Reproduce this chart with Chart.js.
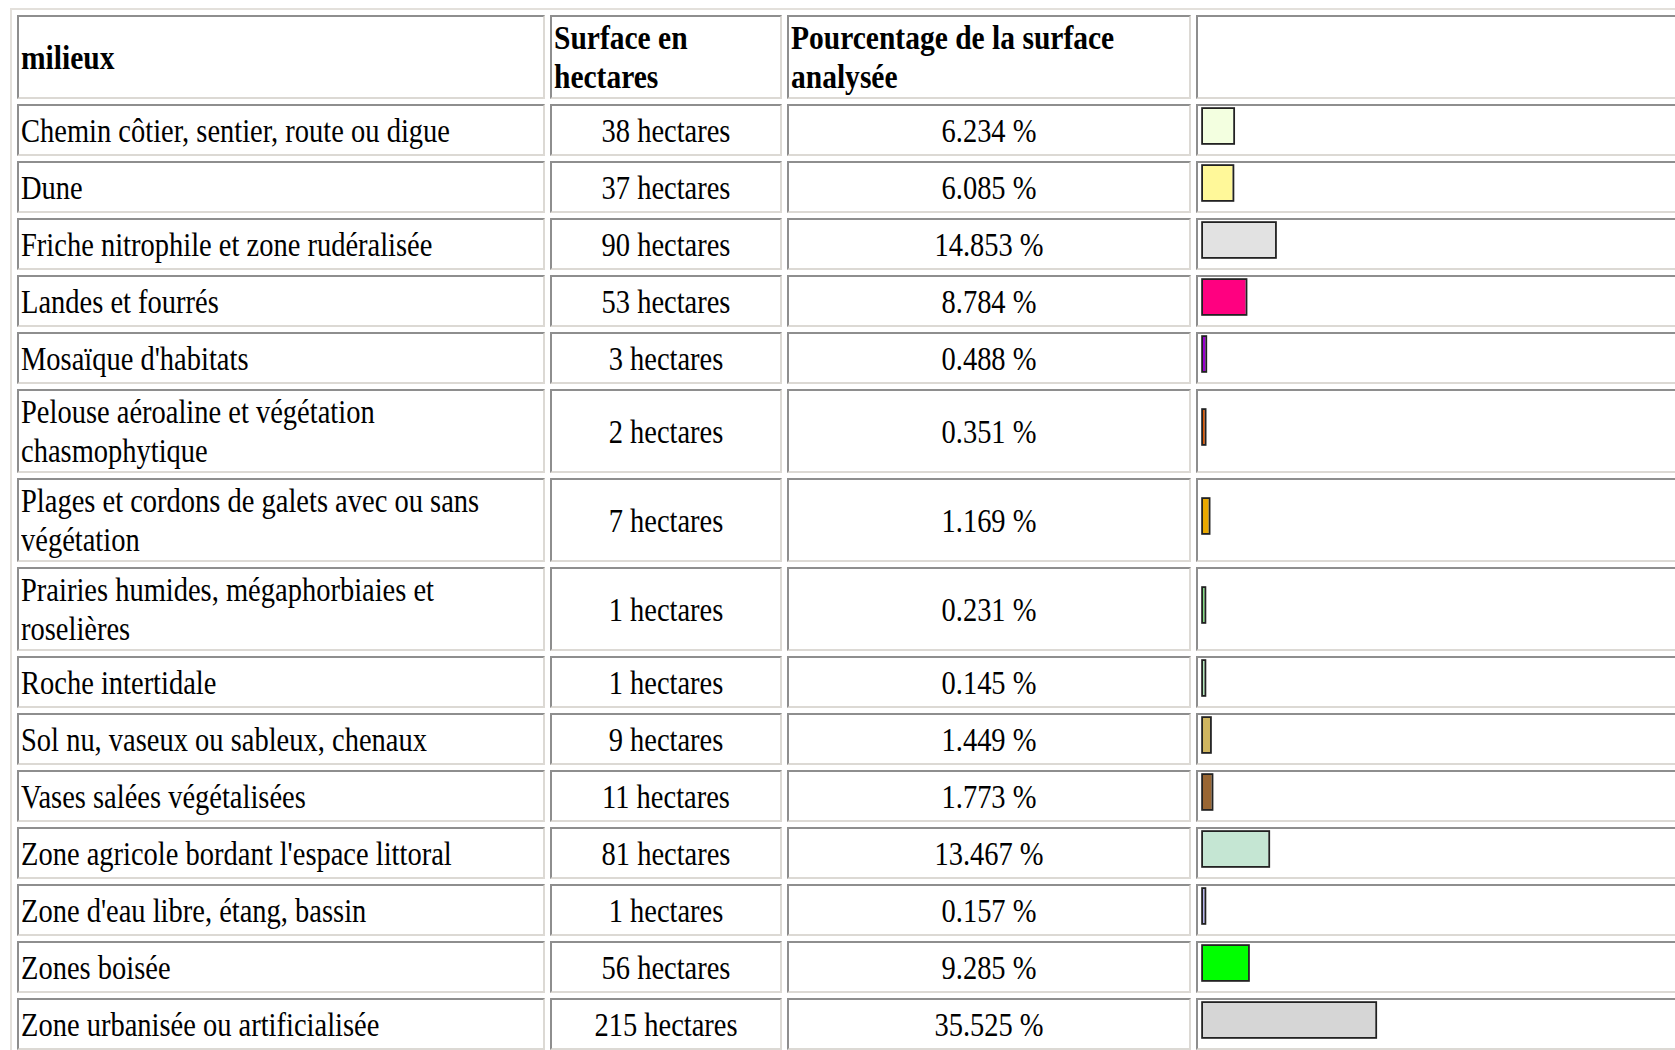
<!DOCTYPE html>
<html lang="fr">
<head>
<meta charset="utf-8">
<title>Milieux</title>
<script src="https://cdn.jsdelivr.net/npm/chart.js@4.4.1/dist/chart.umd.min.js"></script>
<style>
  html, body { margin: 0; padding: 0; background: #fff; }
  body { width: 1675px; height: 1050px; overflow: hidden; position: relative; }
  table {
    position: absolute; left: 10px; top: 8px;
    border-collapse: separate; border-spacing: 5px; table-layout: fixed;
    width: 1713px;
    border: 2px solid; border-color: #e3e0db #8a8a8a #8a8a8a #e3e0db;
    font-family: "Liberation Serif", "Times New Roman", serif;
    font-size: 34px; color: #000;
  }
  td, th {
    box-sizing: border-box;
    border: 2px solid; border-color: #8e8e8e #dcd9d4 #dcd9d4 #8e8e8e;
    padding: 1px 2px; vertical-align: middle; overflow: visible;
    font-weight: normal; text-align: left;
  }
  th { font-weight: bold; }
  .t { line-height: 39px; transform-origin: 0 0; transform: scaleX(0.838); }
  th .t { transform: scaleX(0.868); }
  .c { text-align: center; }
  td.bar { padding: 1px; }
  td.bar canvas { display: block; }
</style>
</head>
<body>
<table id="tab">
  <colgroup>
    <col style="width:528px"><col style="width:232px"><col style="width:404px"><col style="width:520px">
  </colgroup>
  <thead><tr id="head"></tr></thead>
  <tbody id="body"></tbody>
</table>
<script>
// ---- data ----
const enTetes = ["milieux", "Surface en hectares", "Pourcentage de la surface analysée", ""];
const milieux = [
  "Chemin côtier, sentier, route ou digue",
  "Dune",
  "Friche nitrophile et zone rudéralisée",
  "Landes et fourrés",
  "Mosaïque d'habitats",
  "Pelouse aéroaline et végétation chasmophytique",
  "Plages et cordons de galets avec ou sans végétation",
  "Prairies humides, mégaphorbiaies et roselières",
  "Roche intertidale",
  "Sol nu, vaseux ou sableux, chenaux",
  "Vases salées végétalisées",
  "Zone agricole bordant l'espace littoral",
  "Zone d'eau libre, étang, bassin",
  "Zones boisée",
  "Zone urbanisée ou artificialisée"
];
const hectares = [38, 37, 90, 53, 3, 2, 7, 1, 1, 9, 11, 81, 1, 56, 215];
const pourcentages = [6.234, 6.085, 14.853, 8.784, 0.488, 0.351, 1.169, 0.231, 0.145, 1.449, 1.773, 13.467, 0.157, 9.285, 35.525];
const couleurs = ["#f3ffe0", "#fff899", "#e2e2e2", "#ff0080", "#9a00d0", "#dd5500", "#e8a800",
                  "#7fdd7f", "#b0e8b8", "#cfb55f", "#996633", "#c5e6d3", "#b4b4f0", "#00ff00", "#d6d6d6"];

// ---- layout helpers ----
const K = 0.838, KH = 0.868;
const contentW = [500, 224, 396];

const head = document.getElementById('head');
enTetes.forEach((h, j) => {
  const th = document.createElement('th');
  if (j < 3) {
    const d = document.createElement('div');
    d.className = 't';
    d.style.width = (contentW[j] / KH) + 'px';
    d.textContent = h;
    th.appendChild(d);
  }
  head.appendChild(th);
});

const outline = {
  id: 'outline',
  afterDatasetsDraw(chart) {
    const ctx = chart.ctx;
    const lw = 1.8;
    ctx.save();
    ctx.strokeStyle = '#222';
    ctx.lineWidth = lw;
    chart.getDatasetMeta(0).data.forEach(el => {
      const p = el.getProps(['x', 'y', 'base', 'height'], true);
      const l = Math.min(p.x, p.base), r = Math.max(p.x, p.base);
      ctx.strokeRect(l - lw / 2, p.y - p.height / 2 - lw / 2, (r - l) + lw, p.height + lw);
    });
    ctx.restore();
  }
};

const tbody = document.getElementById('body');
milieux.forEach((m, i) => {
  const tr = document.createElement('tr');
  const texts = [m, hectares[i] + ' hectares', pourcentages[i].toFixed(3) + ' %'];
  texts.forEach((tx, j) => {
    const td = document.createElement('td');
    const d = document.createElement('div');
    d.className = 't' + (j > 0 ? ' c' : '');
    d.style.width = (contentW[j] / K) + 'px';
    d.textContent = tx;
    td.appendChild(d);
    tr.appendChild(td);
  });
  const tdb = document.createElement('td');
  tdb.className = 'bar';
  const cv = document.createElement('canvas');
  cv.width = 500; cv.height = 46;
  cv.style.width = '500px'; cv.style.height = '46px';
  tdb.appendChild(cv);
  tr.appendChild(tdb);
  tbody.appendChild(tr);

  new Chart(cv, {
    type: 'bar',
    data: {
      labels: [m],
      datasets: [{
        data: [pourcentages[i]],
        backgroundColor: couleurs[i],
        borderWidth: 0,
        inflateAmount: 0,
        barThickness: 34,
        minBarLength: 1.5
      }]
    },
    options: {
      indexAxis: 'y',
      responsive: false,
      animation: false,
      devicePixelRatio: 1,
      layout: { padding: { left: 4, right: 11, top: 2, bottom: 10 } },
      scales: {
        x: { display: false, min: 0, max: 100 },
        y: { display: false }
      },
      plugins: { legend: { display: false }, tooltip: { enabled: false } }
    },
    plugins: [outline]
  });
});
</script>
</body>
</html>
